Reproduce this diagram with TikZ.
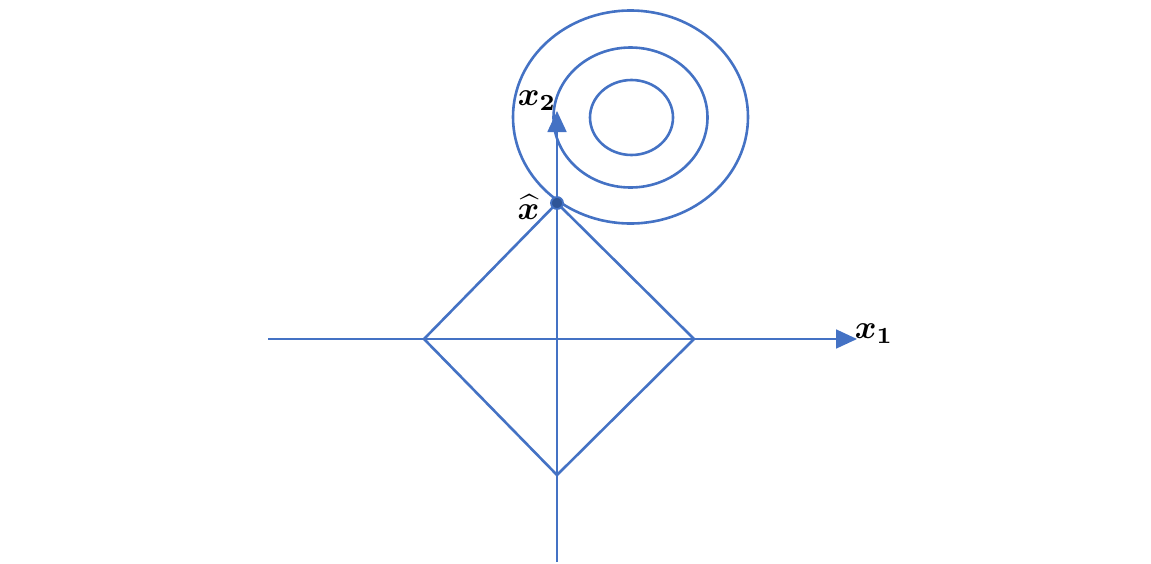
\documentclass[tikz,border=0pt]{standalone}
\usepackage{amsmath,bm}
\usetikzlibrary{arrows.meta}
\definecolor{axblue}{HTML}{4472C4}
\definecolor{dotblue}{HTML}{2F5597}
\begin{document}
\begin{tikzpicture}[x=1pt,y=-1pt,
  axisline/.style={draw=axblue,line width=1.8pt,-{Triangle[length=21pt,width=19pt]}},
  shapeline/.style={draw=axblue,line width=2.6pt},
  lbl/.style={inner sep=0pt,scale=3.3}]
\useasboundingbox (0,0) rectangle (1151,563);
% axes
\coordinate (xs) at (268,339);
\coordinate (xe) at (857,339);
\coordinate (ys) at (557,562);
\coordinate (ye) at (557,111);
\draw[axisline] (xs) -- (xe);
\draw[axisline] (ys) -- (ye);
% diamond
\coordinate (dl) at (424,339);
\coordinate (dr) at (694,339);
\coordinate (dt) at (557,203);
\coordinate (db) at (557,475);
\draw[shapeline,line join=miter] (dl) -- (dt) -- (dr) -- (db) -- cycle;
% ellipses
\coordinate (c1) at (630.5,117);
\draw[shapeline] (c1) ellipse [x radius=117.5, y radius=106.5];
\draw[shapeline] (630.5,117.5) ellipse [x radius=77, y radius=70];
\draw[shapeline] (631.5,117.5) ellipse [x radius=41.5, y radius=37.5];
% point
\node[circle,draw=axblue,fill=dotblue,line width=1.8pt,minimum size=12pt,inner sep=0pt] (xh) at (dt) {};
% labels
\node[lbl] (l2) at (537,101) {$\bm{x}_{\bm{2}}$};
\node[lbl] (l1) at (874,334) {$\bm{x}_{\bm{1}}$};
\node[lbl,anchor=east] (lh) at (540,207) {$\widehat{\bm{x}}$};
\end{tikzpicture}
\end{document}
